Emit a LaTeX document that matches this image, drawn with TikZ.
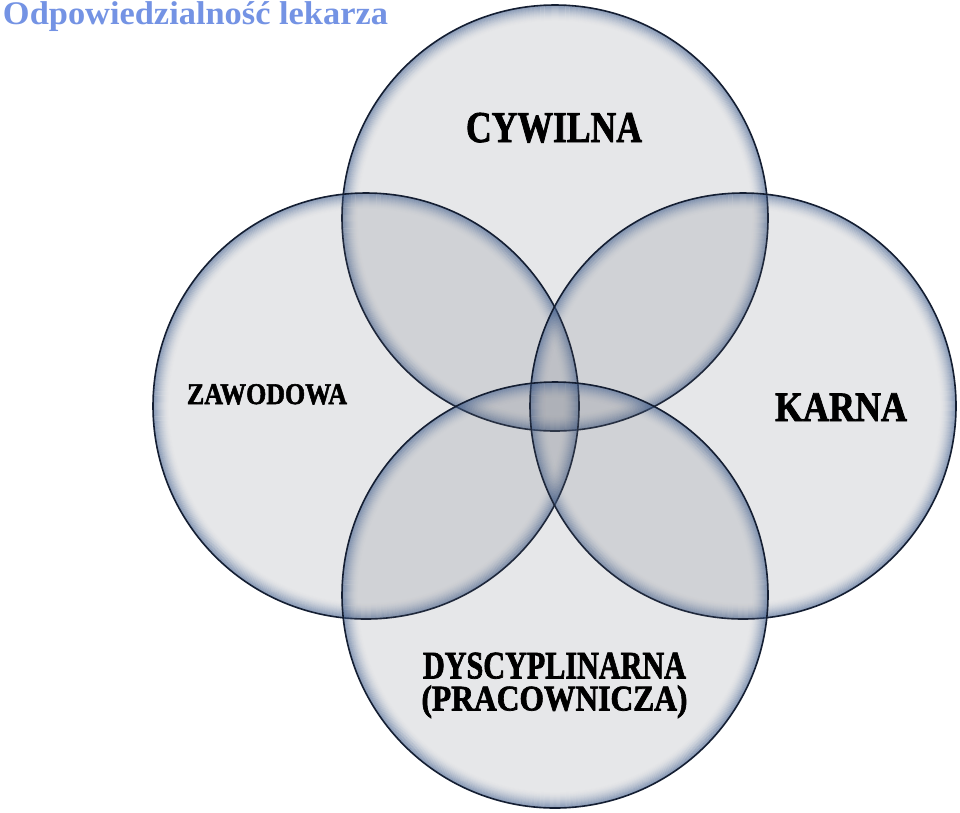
\documentclass[tikz,border=0pt]{standalone}
\usepackage{fontspec}
\setmainfont{Liberation Serif}
\newfontfamily\hvy{Liberation Serif}[BoldFeatures={FakeBold=2}]
\usepackage{graphicx}
\definecolor{titlec}{RGB}{116,147,228}
\definecolor{fillc}{RGB}{88,94,108}
\definecolor{glowc}{RGB}{66,96,145}
\definecolor{bordc}{RGB}{20,30,50}
\tikzset{
  lbl/.style={anchor=base west, inner sep=0pt, outer sep=0pt, text=black},
  vfill/.style={fill=fillc, fill opacity=0.15},
  vbord/.style={draw=bordc, line width=1.6pt},
}
\newcommand{\vcirc}[1]{%
  \fill[vfill] (#1) circle (213);
  \foreach \k [evaluate=\k as \op using {0.55*(1-\k/17)^1.8}] in {1,...,16}
    \draw[glowc, line width=1.2pt, draw opacity=\op] (#1) circle ({213-\k+0.4});
  \draw[vbord] (#1) circle (213);
}
\begin{document}
\begin{tikzpicture}[x=1pt,y=-1pt]
\useasboundingbox (0,0) rectangle (960,812);
\fill[white] (0,0) rectangle (960,812);
\coordinate (ctop) at (555,218);
\coordinate (cleft) at (366,406);
\coordinate (cright) at (743,406);
\coordinate (cbot) at (555,595);
\vcirc{ctop}
\vcirc{cleft}
\vcirc{cright}
\vcirc{cbot}
\node[lbl, text=titlec] (title) at (3,24.5) {\resizebox{385pt}{\height}{\fontsize{33}{36}\selectfont\bfseries Odpowiedzialność lekarza}};
\node[lbl] (cyw) at (466,142) {\resizebox{176pt}{\height}{\fontsize{44}{48}\selectfont\hvy\bfseries CYWILNA}};
\node[lbl] (kar) at (775,421) {\resizebox{132pt}{\height}{\fontsize{42}{46}\selectfont\hvy\bfseries KARNA}};
\node[lbl] (zaw) at (187,404) {\resizebox{160pt}{\height}{\fontsize{30}{34}\selectfont\hvy\bfseries ZAWODOWA}};
\node[anchor=north, inner sep=0pt, outer sep=0pt, align=center, font=\fontsize{39}{32}\selectfont\hvy\bfseries] (dys) at (554.5,652.6)
  {\resizebox{263pt}{\height}{DYSCYPLINARNA}\\\resizebox{266pt}{\height}{\fontsize{36}{32}\selectfont (PRACOWNICZA)}};
\end{tikzpicture}
\end{document}
